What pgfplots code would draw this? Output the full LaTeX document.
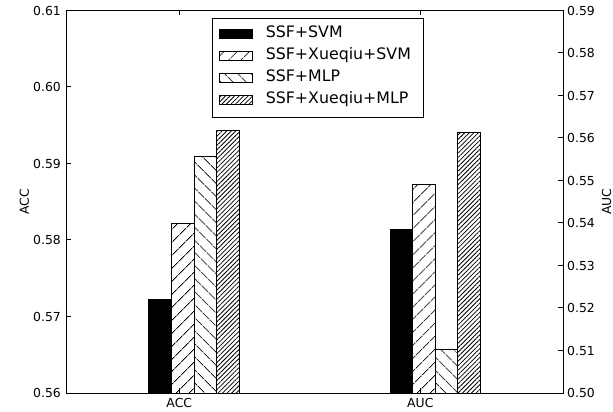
\documentclass[border=0pt]{standalone}
\usepackage{fontspec}
\setmainfont{DejaVu Sans}
\usepackage{pgfplots}
\pgfplotsset{compat=1.18}
\usetikzlibrary{patterns.meta}

\pgfplotsset{
  mylegend/.style={legend image code/.code={\draw[##1] (0bp,-3.7bp) rectangle (33.7bp,5.3bp);}},
  base/.style={
    scale only axis, width=497bp, height=382.5bp,
    xmin=-0.470, xmax=1.592,
    axis line style={line width=1bp},
    every tick/.style={line width=1bp, black},
    major tick length=5bp,
    tick align=inside,
    /pgf/number format/assume math mode=true,
    tick label style={font=\fontsize{12.4bp}{14bp}\selectfont},
    yticklabel style={/pgf/number format/fixed, /pgf/number format/fixed zerofill, /pgf/number format/precision=2},
  },
  bstyle/.style={ybar, bar width=0.0938, bar shift=0pt, line width=1bp, draw=black},
}

\begin{document}
\begin{tikzpicture}
\useasboundingbox (-66bp,-19bp) rectangle (547bp,393bp);
\begin{axis}[base,
  ymin=0.56, ymax=0.61,
  ytick={0.56,0.57,0.58,0.59,0.60,0.61},
  ytick pos=left,
  yticklabel style={anchor=east, inner sep=0pt, xshift=-5bp},
  xtick={0,1}, xticklabels={ACC,AUC},
  xtick pos=both, xticklabel pos=lower,
  xticklabel style={anchor=base, inner sep=0pt, yshift=-14.3bp},
  ylabel={ACC},
  every axis y label/.style={at={(axis description cs:0,0.5)}, xshift=-37bp, rotate=90, anchor=base, font=\fontsize{12.4bp}{14bp}\selectfont},
]
\addplot[bstyle, fill=black] coordinates {(-0.0788,0.5722)};
\addplot[bstyle, pattern={Lines[angle=45,distance=10bp,line width=0.9bp]}] coordinates {(0.0149,0.5822)};
\addplot[bstyle, pattern={Lines[angle=-45,distance=10bp,line width=0.9bp]}] coordinates {(0.1087,0.5909)};
\addplot[bstyle, pattern={Lines[angle=45,distance=3.2bp,line width=0.8bp]}] coordinates {(0.2021,0.5943)};
\end{axis}
\begin{axis}[base,
  ymin=0.50, ymax=0.59,
  ytick={0.50,0.51,0.52,0.53,0.54,0.55,0.56,0.57,0.58,0.59},
  ytick pos=right, yticklabel pos=right,
  yticklabel style={anchor=west, inner sep=0pt, xshift=4bp},
  xtick=\empty,
  ylabel={AUC},
  every axis y label/.style={at={(axis description cs:1,0.5)}, xshift=48bp, rotate=90, anchor=base, font=\fontsize{12.4bp}{14bp}\selectfont},
  legend cell align=left,
  legend style={at={(axis description cs:0.2932,0.9796)}, anchor=north west,
    draw=black, line width=1bp, fill=white,
    inner xsep=6.3bp, inner ysep=7bp, row sep=3.5bp,
    font=\fontsize{15.8bp}{18bp}\selectfont,
    nodes={inner sep=0pt, text height=11.5bp, text depth=7bp, text width=151bp, align=left},
    /tikz/every odd column/.append style={column sep=12.6bp}},
]
\addplot[bstyle, fill=black, mylegend] coordinates {(0.9212,0.5385)};
\addlegendentry{SSF+SVM}
\addplot[bstyle, pattern={Lines[angle=45,distance=10bp,line width=0.9bp]}, mylegend] coordinates {(1.0149,0.5491)};
\addlegendentry{SSF+Xueqiu+SVM}
\addplot[bstyle, pattern={Lines[angle=-45,distance=10bp,line width=0.9bp]}, mylegend] coordinates {(1.1087,0.5103)};
\addlegendentry{SSF+MLP}
\addplot[bstyle, pattern={Lines[angle=45,distance=3.2bp,line width=0.8bp]}, mylegend] coordinates {(1.2021,0.5613)};
\addlegendentry{SSF+Xueqiu+MLP}
\end{axis}
\end{tikzpicture}
\end{document}
